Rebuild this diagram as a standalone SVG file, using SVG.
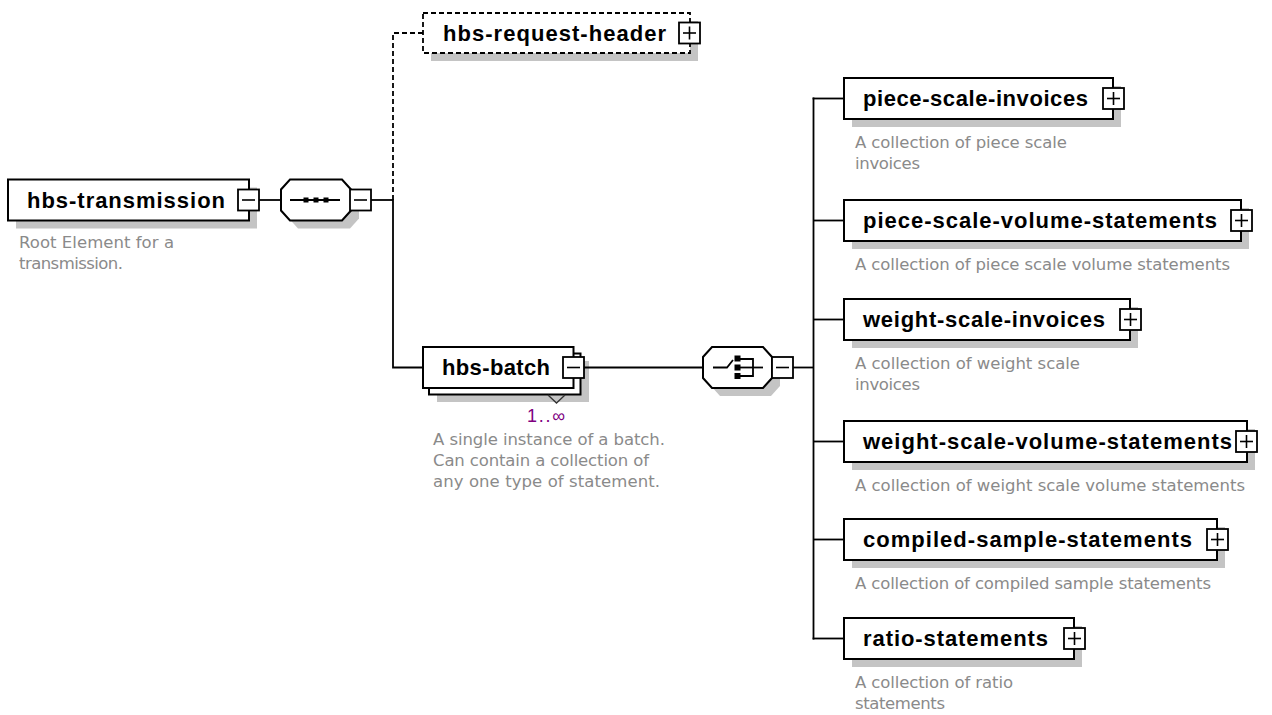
<svg xmlns="http://www.w3.org/2000/svg" width="1272" height="715" viewBox="0 0 1272 715">
<style>
.bg{fill:#ffffff}
.sh{fill:#c4c4c4;stroke:none}
.box{fill:#ffffff;stroke:#000;stroke-width:2}
.dbox{fill:#ffffff;stroke:#000;stroke-width:1.8;stroke-dasharray:5 3}
.btn{fill:#ffffff;stroke:#000;stroke-width:1.8}
.sign{stroke:#000;stroke-width:1.6;fill:none}
.ln{stroke:#000;stroke-width:1.8;fill:none}
.dln{stroke:#000;stroke-width:1.8;fill:none;stroke-dasharray:5 3}
.t{font-family:"Liberation Sans",Arial,sans-serif;font-weight:bold;font-size:22px;fill:#000}
.d{font-family:"DejaVu Sans",Tahoma,sans-serif;font-size:16.5px;fill:#8a8a8a}
.m{font-family:"Liberation Sans",Arial,sans-serif;font-size:18px;fill:#800080}
.sym{fill:#000}
</style>
<rect class="bg" x="0" y="0" width="1272" height="715"/>

<g id="hbs-transmission">
<rect class="sh" x="16" y="187.5" width="241" height="41"/>
<rect class="box" x="8" y="179.5" width="241" height="41"/>
<text class="t" x="27" y="207.5" textLength="198" lengthAdjust="spacing">hbs-transmission</text>
<rect class="btn" x="238" y="189.5" width="21" height="21"/>
<line class="sign" x1="242" y1="200" x2="255" y2="200"/>
<text class="d" x="19" y="248" textLength="155" lengthAdjust="spacing">Root Element for a</text>
<text class="d" x="19" y="269" textLength="104" lengthAdjust="spacing">transmission.</text>
</g>

<g id="sequence">
<polygon class="sh" points="298,187.5 350,187.5 359,197.5 359,218.5 350,228.5 298,228.5 289,218.5 289,197.5"/>
<polygon class="box" points="290,179.5 342,179.5 351,189.5 351,210.5 342,220.5 290,220.5 281,210.5 281,189.5"/>
<line class="ln" x1="290" y1="200" x2="340" y2="200"/>
<rect class="sym" x="303.5" y="197.5" width="5" height="5"/>
<rect class="sym" x="313.5" y="197.5" width="5" height="5"/>
<rect class="sym" x="323.5" y="197.5" width="5" height="5"/>
<rect class="btn" x="350" y="189.5" width="21" height="21"/>
<line class="sign" x1="354" y1="200" x2="367" y2="200"/>
</g>

<g id="hbs-request-header">
<rect class="sh" x="431" y="21" width="267" height="40"/>
<rect class="dbox" x="423" y="13" width="267" height="40"/>
<text class="t" x="443" y="40.5" textLength="223" lengthAdjust="spacing">hbs-request-header</text>
<rect class="btn" x="679" y="22.5" width="21" height="21"/>
<line class="sign" x1="683" y1="33" x2="696" y2="33"/>
<line class="sign" x1="689.5" y1="26.5" x2="689.5" y2="39.5"/>
</g>

<g id="hbs-batch">
<rect class="sh" x="437" y="361" width="152" height="41"/>
<rect class="box" x="429" y="353.5" width="151.5" height="41"/>
<rect class="box" x="423" y="347" width="150.5" height="41"/>
<polyline points="548,395 556.5,403 565,395" fill="none" stroke="#333" stroke-width="1.3"/>
<text class="t" x="442" y="375" textLength="108" lengthAdjust="spacing">hbs-batch</text>
<rect class="btn" x="563" y="357" width="21" height="21"/>
<line class="sign" x1="567" y1="367.5" x2="580" y2="367.5"/>
<text class="m" x="527" y="422" textLength="38" lengthAdjust="spacing">1..∞</text>
<text class="d" x="433" y="445" textLength="232" lengthAdjust="spacing">A single instance of a batch.</text>
<text class="d" x="433" y="466" textLength="216" lengthAdjust="spacing">Can contain a collection of</text>
<text class="d" x="433" y="487" textLength="227" lengthAdjust="spacing">any one type of statement.</text>
</g>

<g id="choice">
<polygon class="sh" points="720,355 771,355 780,365 780,386 771,396 720,396 711,386 711,365"/>
<polygon class="box" points="712,347 763,347 772,357 772,378 763,388 712,388 703,378 703,357"/>
<polyline class="ln" points="713,367.5 727,367.5 733,360"/>
<rect class="sym" x="734.5" y="355.5" width="6" height="6"/>
<rect class="sym" x="734.5" y="364.5" width="6" height="6"/>
<rect class="sym" x="734.5" y="373" width="6" height="6"/>
<polyline class="ln" points="740,359 753,359 753,376 740,376"/>
<line class="ln" x1="740" y1="367.5" x2="763" y2="367.5"/>
<rect class="btn" x="772" y="357" width="21" height="21"/>
<line class="sign" x1="776" y1="367.5" x2="789" y2="367.5"/>
</g>

<g id="piece-scale-invoices">
<rect class="sh" x="852" y="86" width="269" height="41"/>
<rect class="box" x="844" y="78" width="269" height="41"/>
<text class="t" x="863" y="106" textLength="225" lengthAdjust="spacing">piece-scale-invoices</text>
<rect class="btn" x="1103" y="88" width="21" height="21"/>
<line class="sign" x1="1107" y1="98.5" x2="1120" y2="98.5"/>
<line class="sign" x1="1113.5" y1="92" x2="1113.5" y2="105"/>
<text class="d" x="855" y="148" textLength="212" lengthAdjust="spacing">A collection of piece scale</text>
<text class="d" x="855" y="169" textLength="65" lengthAdjust="spacing">invoices</text>
</g>

<g id="piece-scale-volume-statements">
<rect class="sh" x="852" y="208" width="397" height="41"/>
<rect class="box" x="844" y="200" width="397" height="41"/>
<text class="t" x="863" y="228" textLength="354" lengthAdjust="spacing">piece-scale-volume-statements</text>
<rect class="btn" x="1231" y="210" width="21" height="21"/>
<line class="sign" x1="1235" y1="220.5" x2="1248" y2="220.5"/>
<line class="sign" x1="1241.5" y1="214" x2="1241.5" y2="227"/>
<text class="d" x="855" y="270" textLength="375" lengthAdjust="spacing">A collection of piece scale volume statements</text>
</g>

<g id="weight-scale-invoices">
<rect class="sh" x="852" y="307" width="286" height="41"/>
<rect class="box" x="844" y="299" width="286" height="41"/>
<text class="t" x="863" y="327" textLength="242" lengthAdjust="spacing">weight-scale-invoices</text>
<rect class="btn" x="1120" y="309" width="21" height="21"/>
<line class="sign" x1="1124" y1="319.5" x2="1137" y2="319.5"/>
<line class="sign" x1="1130.5" y1="313" x2="1130.5" y2="326"/>
<text class="d" x="855" y="369" textLength="225" lengthAdjust="spacing">A collection of weight scale</text>
<text class="d" x="855" y="390" textLength="65" lengthAdjust="spacing">invoices</text>
</g>

<g id="weight-scale-volume-statements">
<rect class="sh" x="852" y="429" width="403" height="41"/>
<rect class="box" x="844" y="421" width="403" height="41"/>
<text class="t" x="863" y="449" textLength="369" lengthAdjust="spacing">weight-scale-volume-statements</text>
<rect class="btn" x="1236" y="431" width="21" height="21"/>
<line class="sign" x1="1240" y1="441.5" x2="1253" y2="441.5"/>
<line class="sign" x1="1246.5" y1="435" x2="1246.5" y2="448"/>
<text class="d" x="855" y="491" textLength="390" lengthAdjust="spacing">A collection of weight scale volume statements</text>
</g>

<g id="compiled-sample-statements">
<rect class="sh" x="852" y="527" width="373" height="41"/>
<rect class="box" x="844" y="519" width="373" height="41"/>
<text class="t" x="863" y="547" textLength="329" lengthAdjust="spacing">compiled-sample-statements</text>
<rect class="btn" x="1207" y="529" width="21" height="21"/>
<line class="sign" x1="1211" y1="539.5" x2="1224" y2="539.5"/>
<line class="sign" x1="1217.5" y1="533" x2="1217.5" y2="546"/>
<text class="d" x="855" y="589" textLength="356" lengthAdjust="spacing">A collection of compiled sample statements</text>
</g>

<g id="ratio-statements">
<rect class="sh" x="852" y="626" width="230" height="41"/>
<rect class="box" x="844" y="618" width="230" height="41"/>
<text class="t" x="863" y="646" textLength="185" lengthAdjust="spacing">ratio-statements</text>
<rect class="btn" x="1064" y="628" width="21" height="21"/>
<line class="sign" x1="1068" y1="638.5" x2="1081" y2="638.5"/>
<line class="sign" x1="1074.5" y1="632" x2="1074.5" y2="645"/>
<text class="d" x="855" y="688" textLength="158" lengthAdjust="spacing">A collection of ratio</text>
<text class="d" x="855" y="709" textLength="90" lengthAdjust="spacing">statements</text>
</g>

<g id="connectors">
<line class="ln" x1="259" y1="200" x2="281" y2="200"/>
<line class="ln" x1="371" y1="200" x2="393" y2="200"/>
<polyline class="dln" points="423,33 393,33 393,200"/>
<polyline class="ln" points="393,199 393,367.5 423,367.5"/>
<line class="ln" x1="584" y1="367.5" x2="703" y2="367.5"/>
<line class="ln" x1="793" y1="367.5" x2="813.5" y2="367.5"/>
<line class="ln" x1="813.5" y1="97.6" x2="813.5" y2="639.4"/>
<line class="ln" x1="812.6" y1="98.5" x2="844" y2="98.5"/>
<line class="ln" x1="813.5" y1="220.5" x2="844" y2="220.5"/>
<line class="ln" x1="813.5" y1="319.5" x2="844" y2="319.5"/>
<line class="ln" x1="813.5" y1="441.5" x2="844" y2="441.5"/>
<line class="ln" x1="813.5" y1="539.5" x2="844" y2="539.5"/>
<line class="ln" x1="812.6" y1="638.5" x2="844" y2="638.5"/>
</g>
</svg>
